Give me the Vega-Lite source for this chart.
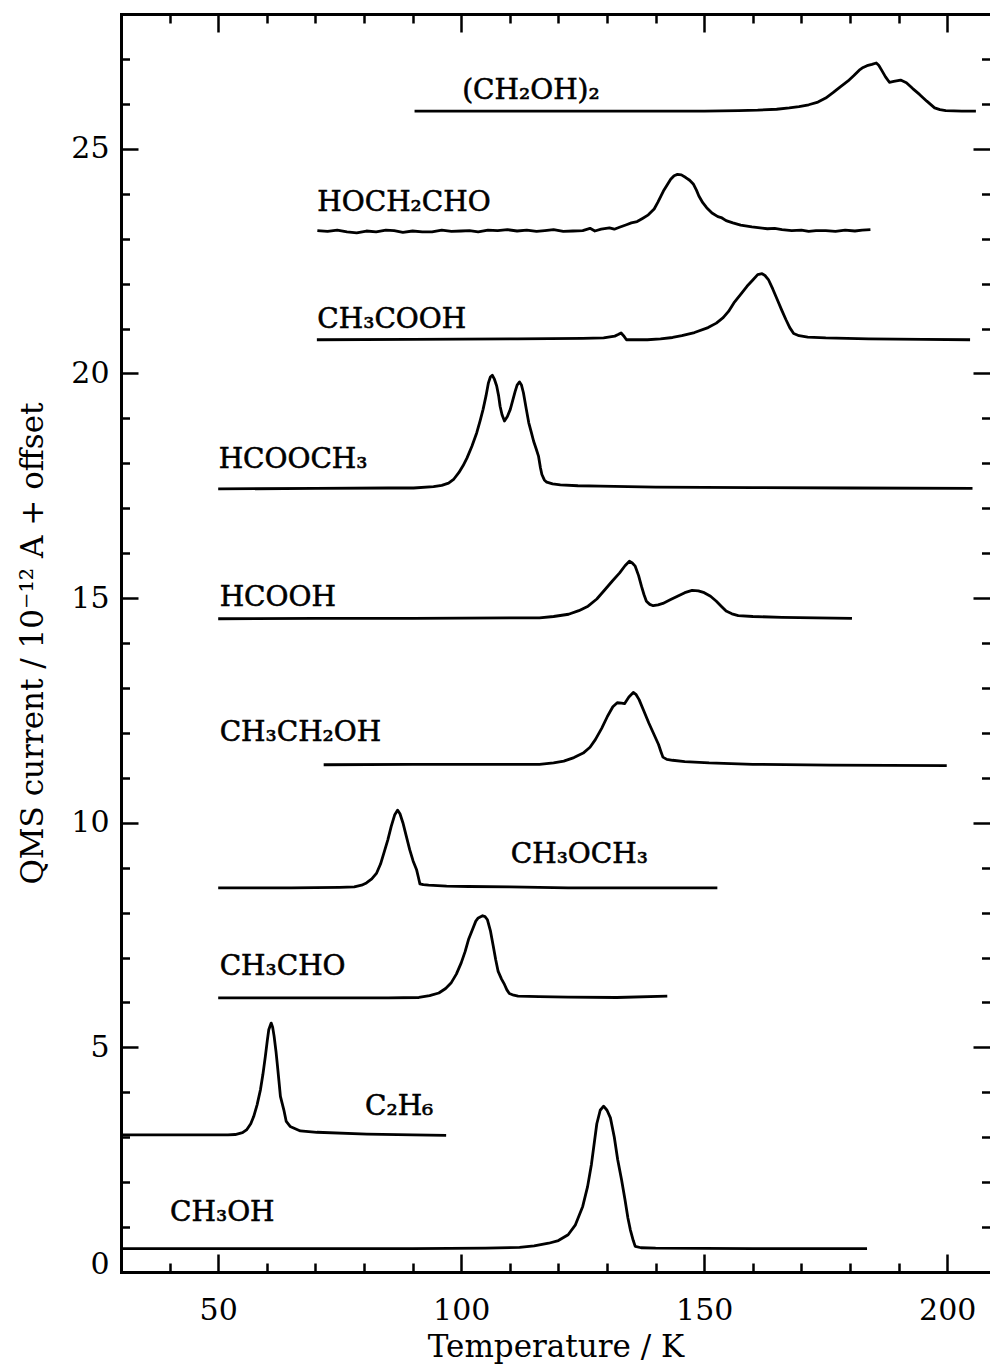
{
"$schema": "https://vega.github.io/schema/vega-lite/v6.json",
"width": 869, "height": 1258,
"autosize": {"type": "none"},
"padding": {"left": 121, "top": 14, "right": 0, "bottom": 92},
"background": "white",
"config": {
  "view": {"stroke": null},
  "font": "DejaVu Serif",
  "axis": {"grid": false, "domainColor": "black", "tickColor": "black", "domainWidth": 3, "tickWidth": 2.5, "domainCap": "square",
    "labelFont": "DejaVu Serif", "labelFontSize": 30, "labelColor": "black",
    "titleFont": "DejaVu Serif", "titleFontSize": 31, "titleFontWeight": "normal", "titleColor": "black"}
},
"datasets": {
"curves": [
{"s":"CH3OH","t":30,"v":0.52},{"s":"CH3OH","t":60,"v":0.52},{"s":"CH3OH","t":90,"v":0.52},{"s":"CH3OH","t":105,"v":0.53},{"s":"CH3OH","t":112,"v":0.55},{"s":"CH3OH","t":115,"v":0.58},{"s":"CH3OH","t":118,"v":0.64},{"s":"CH3OH","t":120,"v":0.7},{"s":"CH3OH","t":122,"v":0.83},{"s":"CH3OH","t":123.5,"v":1.05},{"s":"CH3OH","t":125,"v":1.46},{"s":"CH3OH","t":126,"v":1.9},{"s":"CH3OH","t":126.8,"v":2.4},{"s":"CH3OH","t":127.9,"v":3.3},{"s":"CH3OH","t":128.6,"v":3.6},{"s":"CH3OH","t":129.3,"v":3.69},{"s":"CH3OH","t":130,"v":3.6},{"s":"CH3OH","t":130.7,"v":3.43},{"s":"CH3OH","t":131.5,"v":3.0},{"s":"CH3OH","t":132.2,"v":2.5},{"s":"CH3OH","t":133,"v":2.05},{"s":"CH3OH","t":133.7,"v":1.61},{"s":"CH3OH","t":134.3,"v":1.2},{"s":"CH3OH","t":134.8,"v":0.94},{"s":"CH3OH","t":135.4,"v":0.7},{"s":"CH3OH","t":135.8,"v":0.57},{"s":"CH3OH","t":137,"v":0.54},{"s":"CH3OH","t":140,"v":0.53},{"s":"CH3OH","t":160,"v":0.52},{"s":"CH3OH","t":183.5,"v":0.52},
{"s":"C2H6","t":30,"v":3.05},{"s":"C2H6","t":45,"v":3.05},{"s":"C2H6","t":52,"v":3.05},{"s":"C2H6","t":53.5,"v":3.06},{"s":"C2H6","t":55,"v":3.1},{"s":"C2H6","t":55.9,"v":3.17},{"s":"C2H6","t":56.7,"v":3.3},{"s":"C2H6","t":57.3,"v":3.46},{"s":"C2H6","t":58,"v":3.72},{"s":"C2H6","t":58.7,"v":4.06},{"s":"C2H6","t":59.2,"v":4.4},{"s":"C2H6","t":59.7,"v":4.8},{"s":"C2H6","t":60.1,"v":5.15},{"s":"C2H6","t":60.4,"v":5.39},{"s":"C2H6","t":60.9,"v":5.54},{"s":"C2H6","t":61.2,"v":5.45},{"s":"C2H6","t":61.5,"v":5.25},{"s":"C2H6","t":61.9,"v":4.9},{"s":"C2H6","t":62.2,"v":4.58},{"s":"C2H6","t":62.5,"v":4.25},{"s":"C2H6","t":62.8,"v":3.91},{"s":"C2H6","t":63.5,"v":3.61},{"s":"C2H6","t":64,"v":3.35},{"s":"C2H6","t":64.8,"v":3.24},{"s":"C2H6","t":66.9,"v":3.14},{"s":"C2H6","t":70.3,"v":3.11},{"s":"C2H6","t":80.6,"v":3.07},{"s":"C2H6","t":90,"v":3.05},{"s":"C2H6","t":96.9,"v":3.04},
{"s":"CH3CHO","t":50,"v":6.1},{"s":"CH3CHO","t":70,"v":6.1},{"s":"CH3CHO","t":85,"v":6.1},{"s":"CH3CHO","t":91.3,"v":6.11},{"s":"CH3CHO","t":93.5,"v":6.15},{"s":"CH3CHO","t":95.4,"v":6.21},{"s":"CH3CHO","t":96.8,"v":6.31},{"s":"CH3CHO","t":97.9,"v":6.43},{"s":"CH3CHO","t":99,"v":6.63},{"s":"CH3CHO","t":100,"v":6.88},{"s":"CH3CHO","t":100.8,"v":7.13},{"s":"CH3CHO","t":101.5,"v":7.4},{"s":"CH3CHO","t":102.3,"v":7.62},{"s":"CH3CHO","t":103,"v":7.81},{"s":"CH3CHO","t":103.5,"v":7.88},{"s":"CH3CHO","t":104.4,"v":7.93},{"s":"CH3CHO","t":104.9,"v":7.91},{"s":"CH3CHO","t":105.4,"v":7.84},{"s":"CH3CHO","t":106,"v":7.6},{"s":"CH3CHO","t":106.6,"v":7.25},{"s":"CH3CHO","t":107.1,"v":6.95},{"s":"CH3CHO","t":107.6,"v":6.69},{"s":"CH3CHO","t":108.3,"v":6.52},{"s":"CH3CHO","t":108.9,"v":6.4},{"s":"CH3CHO","t":109.4,"v":6.28},{"s":"CH3CHO","t":109.9,"v":6.2},{"s":"CH3CHO","t":110.8,"v":6.16},{"s":"CH3CHO","t":111.7,"v":6.14},{"s":"CH3CHO","t":116,"v":6.13},{"s":"CH3CHO","t":122,"v":6.12},{"s":"CH3CHO","t":132,"v":6.11},{"s":"CH3CHO","t":142.4,"v":6.14},
{"s":"CH3OCH3","t":50,"v":8.55},{"s":"CH3OCH3","t":65,"v":8.55},{"s":"CH3OCH3","t":75,"v":8.56},{"s":"CH3OCH3","t":78,"v":8.57},{"s":"CH3OCH3","t":79.5,"v":8.61},{"s":"CH3OCH3","t":80.5,"v":8.66},{"s":"CH3OCH3","t":81.6,"v":8.75},{"s":"CH3OCH3","t":82.6,"v":8.88},{"s":"CH3OCH3","t":83.4,"v":9.08},{"s":"CH3OCH3","t":84.1,"v":9.33},{"s":"CH3OCH3","t":84.9,"v":9.62},{"s":"CH3OCH3","t":85.6,"v":9.92},{"s":"CH3OCH3","t":86.3,"v":10.17},{"s":"CH3OCH3","t":86.9,"v":10.28},{"s":"CH3OCH3","t":87.4,"v":10.2},{"s":"CH3OCH3","t":88,"v":10.0},{"s":"CH3OCH3","t":88.7,"v":9.7},{"s":"CH3OCH3","t":89.4,"v":9.4},{"s":"CH3OCH3","t":90.1,"v":9.15},{"s":"CH3OCH3","t":90.8,"v":8.96},{"s":"CH3OCH3","t":91.2,"v":8.78},{"s":"CH3OCH3","t":91.5,"v":8.64},{"s":"CH3OCH3","t":92.2,"v":8.62},{"s":"CH3OCH3","t":93.3,"v":8.61},{"s":"CH3OCH3","t":97,"v":8.59},{"s":"CH3OCH3","t":101.5,"v":8.58},{"s":"CH3OCH3","t":110,"v":8.57},{"s":"CH3OCH3","t":122,"v":8.55},{"s":"CH3OCH3","t":140,"v":8.55},{"s":"CH3OCH3","t":152.7,"v":8.55},
{"s":"CH3CH2OH","t":71.7,"v":11.29},{"s":"CH3CH2OH","t":90,"v":11.3},{"s":"CH3CH2OH","t":110,"v":11.3},{"s":"CH3CH2OH","t":116.1,"v":11.3},{"s":"CH3CH2OH","t":119,"v":11.33},{"s":"CH3CH2OH","t":121.1,"v":11.37},{"s":"CH3CH2OH","t":123.2,"v":11.45},{"s":"CH3CH2OH","t":125.1,"v":11.55},{"s":"CH3CH2OH","t":126.5,"v":11.68},{"s":"CH3CH2OH","t":127.6,"v":11.85},{"s":"CH3CH2OH","t":128.9,"v":12.1},{"s":"CH3CH2OH","t":130.1,"v":12.37},{"s":"CH3CH2OH","t":131.2,"v":12.58},{"s":"CH3CH2OH","t":132.1,"v":12.67},{"s":"CH3CH2OH","t":133,"v":12.66},{"s":"CH3CH2OH","t":133.6,"v":12.65},{"s":"CH3CH2OH","t":134.5,"v":12.8},{"s":"CH3CH2OH","t":135.4,"v":12.9},{"s":"CH3CH2OH","t":136,"v":12.85},{"s":"CH3CH2OH","t":136.6,"v":12.74},{"s":"CH3CH2OH","t":137.6,"v":12.48},{"s":"CH3CH2OH","t":138.6,"v":12.22},{"s":"CH3CH2OH","t":139.6,"v":11.98},{"s":"CH3CH2OH","t":140.6,"v":11.74},{"s":"CH3CH2OH","t":141.1,"v":11.58},{"s":"CH3CH2OH","t":141.5,"v":11.46},{"s":"CH3CH2OH","t":142.3,"v":11.41},{"s":"CH3CH2OH","t":143.5,"v":11.39},{"s":"CH3CH2OH","t":146,"v":11.36},{"s":"CH3CH2OH","t":151,"v":11.33},{"s":"CH3CH2OH","t":160,"v":11.3},{"s":"CH3CH2OH","t":176,"v":11.28},{"s":"CH3CH2OH","t":199.9,"v":11.27},
{"s":"HCOOH","t":50,"v":14.54},{"s":"HCOOH","t":70,"v":14.55},{"s":"HCOOH","t":90,"v":14.55},{"s":"HCOOH","t":110,"v":14.56},{"s":"HCOOH","t":116.1,"v":14.56},{"s":"HCOOH","t":119,"v":14.59},{"s":"HCOOH","t":122.1,"v":14.64},{"s":"HCOOH","t":124.2,"v":14.72},{"s":"HCOOH","t":126.1,"v":14.82},{"s":"HCOOH","t":127.9,"v":14.98},{"s":"HCOOH","t":129.6,"v":15.19},{"s":"HCOOH","t":131.1,"v":15.38},{"s":"HCOOH","t":132.6,"v":15.56},{"s":"HCOOH","t":133.7,"v":15.72},{"s":"HCOOH","t":134.6,"v":15.82},{"s":"HCOOH","t":135.2,"v":15.78},{"s":"HCOOH","t":135.8,"v":15.71},{"s":"HCOOH","t":136.5,"v":15.5},{"s":"HCOOH","t":137.1,"v":15.26},{"s":"HCOOH","t":137.6,"v":15.08},{"s":"HCOOH","t":138.1,"v":14.93},{"s":"HCOOH","t":138.8,"v":14.86},{"s":"HCOOH","t":139.5,"v":14.83},{"s":"HCOOH","t":140.5,"v":14.85},{"s":"HCOOH","t":141.5,"v":14.88},{"s":"HCOOH","t":143,"v":14.96},{"s":"HCOOH","t":144.5,"v":15.04},{"s":"HCOOH","t":146,"v":15.12},{"s":"HCOOH","t":147.5,"v":15.17},{"s":"HCOOH","t":148.8,"v":15.16},{"s":"HCOOH","t":150,"v":15.12},{"s":"HCOOH","t":151.3,"v":15.04},{"s":"HCOOH","t":152.5,"v":14.93},{"s":"HCOOH","t":153.5,"v":14.82},{"s":"HCOOH","t":154.5,"v":14.71},{"s":"HCOOH","t":155.7,"v":14.65},{"s":"HCOOH","t":157,"v":14.61},{"s":"HCOOH","t":160,"v":14.59},{"s":"HCOOH","t":166,"v":14.57},{"s":"HCOOH","t":173,"v":14.56},{"s":"HCOOH","t":180.4,"v":14.55},
{"s":"HCOOCH3","t":50,"v":17.43},{"s":"HCOOCH3","t":70,"v":17.44},{"s":"HCOOCH3","t":85,"v":17.45},{"s":"HCOOCH3","t":90.2,"v":17.45},{"s":"HCOOCH3","t":94.3,"v":17.48},{"s":"HCOOCH3","t":96,"v":17.51},{"s":"HCOOCH3","t":97.4,"v":17.56},{"s":"HCOOCH3","t":98.5,"v":17.65},{"s":"HCOOCH3","t":99.5,"v":17.79},{"s":"HCOOCH3","t":100.4,"v":17.95},{"s":"HCOOCH3","t":101.2,"v":18.12},{"s":"HCOOCH3","t":102.2,"v":18.38},{"s":"HCOOCH3","t":103.2,"v":18.68},{"s":"HCOOCH3","t":103.9,"v":18.95},{"s":"HCOOCH3","t":104.5,"v":19.2},{"s":"HCOOCH3","t":105.1,"v":19.5},{"s":"HCOOCH3","t":105.6,"v":19.79},{"s":"HCOOCH3","t":106,"v":19.92},{"s":"HCOOCH3","t":106.4,"v":19.96},{"s":"HCOOCH3","t":106.8,"v":19.88},{"s":"HCOOCH3","t":107.3,"v":19.72},{"s":"HCOOCH3","t":107.7,"v":19.5},{"s":"HCOOCH3","t":108,"v":19.27},{"s":"HCOOCH3","t":108.4,"v":19.08},{"s":"HCOOCH3","t":108.9,"v":18.94},{"s":"HCOOCH3","t":109.5,"v":19.04},{"s":"HCOOCH3","t":110.1,"v":19.2},{"s":"HCOOCH3","t":110.6,"v":19.4},{"s":"HCOOCH3","t":111.1,"v":19.6},{"s":"HCOOCH3","t":111.5,"v":19.74},{"s":"HCOOCH3","t":112,"v":19.81},{"s":"HCOOCH3","t":112.4,"v":19.74},{"s":"HCOOCH3","t":112.8,"v":19.57},{"s":"HCOOCH3","t":113.4,"v":19.2},{"s":"HCOOCH3","t":113.9,"v":18.9},{"s":"HCOOCH3","t":114.4,"v":18.7},{"s":"HCOOCH3","t":114.9,"v":18.49},{"s":"HCOOCH3","t":115.4,"v":18.33},{"s":"HCOOCH3","t":115.9,"v":18.16},{"s":"HCOOCH3","t":116.3,"v":17.9},{"s":"HCOOCH3","t":116.6,"v":17.75},{"s":"HCOOCH3","t":117.1,"v":17.63},{"s":"HCOOCH3","t":117.6,"v":17.58},{"s":"HCOOCH3","t":118.8,"v":17.54},{"s":"HCOOCH3","t":120.4,"v":17.52},{"s":"HCOOCH3","t":124,"v":17.5},{"s":"HCOOCH3","t":128.6,"v":17.49},{"s":"HCOOCH3","t":140,"v":17.47},{"s":"HCOOCH3","t":160,"v":17.46},{"s":"HCOOCH3","t":180,"v":17.45},{"s":"HCOOCH3","t":205.2,"v":17.44},
{"s":"CH3COOH","t":70.3,"v":20.75},{"s":"CH3COOH","t":90,"v":20.76},{"s":"CH3COOH","t":111.5,"v":20.77},{"s":"CH3COOH","t":125,"v":20.78},{"s":"CH3COOH","t":129.3,"v":20.79},{"s":"CH3COOH","t":131.6,"v":20.83},{"s":"CH3COOH","t":132.4,"v":20.87},{"s":"CH3COOH","t":132.9,"v":20.9},{"s":"CH3COOH","t":133.4,"v":20.84},{"s":"CH3COOH","t":134,"v":20.75},{"s":"CH3COOH","t":136,"v":20.75},{"s":"CH3COOH","t":138.3,"v":20.75},{"s":"CH3COOH","t":141,"v":20.77},{"s":"CH3COOH","t":143.5,"v":20.8},{"s":"CH3COOH","t":145.4,"v":20.84},{"s":"CH3COOH","t":148,"v":20.91},{"s":"CH3COOH","t":150.8,"v":21.02},{"s":"CH3COOH","t":152.5,"v":21.12},{"s":"CH3COOH","t":153.9,"v":21.24},{"s":"CH3COOH","t":155,"v":21.38},{"s":"CH3COOH","t":156.1,"v":21.57},{"s":"CH3COOH","t":157.5,"v":21.76},{"s":"CH3COOH","t":158.8,"v":21.94},{"s":"CH3COOH","t":160,"v":22.08},{"s":"CH3COOH","t":161,"v":22.2},{"s":"CH3COOH","t":161.9,"v":22.22},{"s":"CH3COOH","t":162.5,"v":22.18},{"s":"CH3COOH","t":163.2,"v":22.09},{"s":"CH3COOH","t":164.1,"v":21.88},{"s":"CH3COOH","t":165,"v":21.65},{"s":"CH3COOH","t":165.9,"v":21.42},{"s":"CH3COOH","t":166.8,"v":21.2},{"s":"CH3COOH","t":167.6,"v":21.02},{"s":"CH3COOH","t":168.4,"v":20.89},{"s":"CH3COOH","t":169.5,"v":20.84},{"s":"CH3COOH","t":171.3,"v":20.81},{"s":"CH3COOH","t":175,"v":20.79},{"s":"CH3COOH","t":183.8,"v":20.77},{"s":"CH3COOH","t":195,"v":20.76},{"s":"CH3COOH","t":204.7,"v":20.75},
{"s":"HOCH2CHO","t":70.4,"v":23.18},{"s":"HOCH2CHO","t":72.5,"v":23.16},{"s":"HOCH2CHO","t":74.5,"v":23.19},{"s":"HOCH2CHO","t":76.5,"v":23.15},{"s":"HOCH2CHO","t":78.5,"v":23.13},{"s":"HOCH2CHO","t":80.5,"v":23.17},{"s":"HOCH2CHO","t":82.5,"v":23.15},{"s":"HOCH2CHO","t":84.5,"v":23.19},{"s":"HOCH2CHO","t":86.2,"v":23.18},{"s":"HOCH2CHO","t":88,"v":23.14},{"s":"HOCH2CHO","t":90,"v":23.17},{"s":"HOCH2CHO","t":92,"v":23.15},{"s":"HOCH2CHO","t":94,"v":23.15},{"s":"HOCH2CHO","t":96,"v":23.19},{"s":"HOCH2CHO","t":98,"v":23.16},{"s":"HOCH2CHO","t":100,"v":23.17},{"s":"HOCH2CHO","t":101.7,"v":23.18},{"s":"HOCH2CHO","t":103.5,"v":23.15},{"s":"HOCH2CHO","t":105.5,"v":23.19},{"s":"HOCH2CHO","t":107.5,"v":23.18},{"s":"HOCH2CHO","t":109.5,"v":23.2},{"s":"HOCH2CHO","t":111.5,"v":23.17},{"s":"HOCH2CHO","t":113.5,"v":23.19},{"s":"HOCH2CHO","t":115.5,"v":23.16},{"s":"HOCH2CHO","t":117.2,"v":23.18},{"s":"HOCH2CHO","t":119,"v":23.2},{"s":"HOCH2CHO","t":121,"v":23.16},{"s":"HOCH2CHO","t":123,"v":23.17},{"s":"HOCH2CHO","t":125,"v":23.18},{"s":"HOCH2CHO","t":126.5,"v":23.23},{"s":"HOCH2CHO","t":127.5,"v":23.17},{"s":"HOCH2CHO","t":128.8,"v":23.21},{"s":"HOCH2CHO","t":130.5,"v":23.24},{"s":"HOCH2CHO","t":131.5,"v":23.21},{"s":"HOCH2CHO","t":132.7,"v":23.26},{"s":"HOCH2CHO","t":134,"v":23.31},{"s":"HOCH2CHO","t":135,"v":23.35},{"s":"HOCH2CHO","t":136.2,"v":23.38},{"s":"HOCH2CHO","t":137.3,"v":23.45},{"s":"HOCH2CHO","t":138.5,"v":23.53},{"s":"HOCH2CHO","t":139.7,"v":23.66},{"s":"HOCH2CHO","t":140.5,"v":23.82},{"s":"HOCH2CHO","t":141.6,"v":24.06},{"s":"HOCH2CHO","t":142.4,"v":24.2},{"s":"HOCH2CHO","t":143.1,"v":24.32},{"s":"HOCH2CHO","t":143.8,"v":24.4},{"s":"HOCH2CHO","t":144.5,"v":24.43},{"s":"HOCH2CHO","t":145.3,"v":24.42},{"s":"HOCH2CHO","t":146.2,"v":24.36},{"s":"HOCH2CHO","t":147,"v":24.3},{"s":"HOCH2CHO","t":147.8,"v":24.21},{"s":"HOCH2CHO","t":148.4,"v":24.08},{"s":"HOCH2CHO","t":148.9,"v":23.95},{"s":"HOCH2CHO","t":149.7,"v":23.8},{"s":"HOCH2CHO","t":150.5,"v":23.69},{"s":"HOCH2CHO","t":151.6,"v":23.57},{"s":"HOCH2CHO","t":152.8,"v":23.49},{"s":"HOCH2CHO","t":153.5,"v":23.47},{"s":"HOCH2CHO","t":154.5,"v":23.4},{"s":"HOCH2CHO","t":155.9,"v":23.35},{"s":"HOCH2CHO","t":157.5,"v":23.3},{"s":"HOCH2CHO","t":159.8,"v":23.26},{"s":"HOCH2CHO","t":161.5,"v":23.24},{"s":"HOCH2CHO","t":163,"v":23.22},{"s":"HOCH2CHO","t":164.5,"v":23.23},{"s":"HOCH2CHO","t":166,"v":23.2},{"s":"HOCH2CHO","t":168,"v":23.18},{"s":"HOCH2CHO","t":170,"v":23.19},{"s":"HOCH2CHO","t":171.5,"v":23.16},{"s":"HOCH2CHO","t":173,"v":23.18},{"s":"HOCH2CHO","t":175,"v":23.18},{"s":"HOCH2CHO","t":177,"v":23.16},{"s":"HOCH2CHO","t":179,"v":23.19},{"s":"HOCH2CHO","t":181,"v":23.17},{"s":"HOCH2CHO","t":182.5,"v":23.19},{"s":"HOCH2CHO","t":184.2,"v":23.2},
{"s":"(CH2OH)2","t":90.4,"v":25.84},{"s":"(CH2OH)2","t":110,"v":25.84},{"s":"(CH2OH)2","t":133.9,"v":25.84},{"s":"(CH2OH)2","t":150,"v":25.84},{"s":"(CH2OH)2","t":157.1,"v":25.85},{"s":"(CH2OH)2","t":161,"v":25.86},{"s":"(CH2OH)2","t":164.9,"v":25.88},{"s":"(CH2OH)2","t":167.5,"v":25.91},{"s":"(CH2OH)2","t":169.5,"v":25.94},{"s":"(CH2OH)2","t":171.5,"v":25.98},{"s":"(CH2OH)2","t":173.4,"v":26.04},{"s":"(CH2OH)2","t":175,"v":26.13},{"s":"(CH2OH)2","t":176.5,"v":26.25},{"s":"(CH2OH)2","t":178,"v":26.38},{"s":"(CH2OH)2","t":179.6,"v":26.51},{"s":"(CH2OH)2","t":180.8,"v":26.63},{"s":"(CH2OH)2","t":181.9,"v":26.75},{"s":"(CH2OH)2","t":182.7,"v":26.81},{"s":"(CH2OH)2","t":183.5,"v":26.85},{"s":"(CH2OH)2","t":184.5,"v":26.88},{"s":"(CH2OH)2","t":185.4,"v":26.91},{"s":"(CH2OH)2","t":185.9,"v":26.86},{"s":"(CH2OH)2","t":186.5,"v":26.75},{"s":"(CH2OH)2","t":187.3,"v":26.6},{"s":"(CH2OH)2","t":188.1,"v":26.48},{"s":"(CH2OH)2","t":189,"v":26.5},{"s":"(CH2OH)2","t":190.4,"v":26.53},{"s":"(CH2OH)2","t":191.6,"v":26.47},{"s":"(CH2OH)2","t":192.9,"v":26.34},{"s":"(CH2OH)2","t":194.3,"v":26.21},{"s":"(CH2OH)2","t":195.8,"v":26.06},{"s":"(CH2OH)2","t":197.4,"v":25.91},{"s":"(CH2OH)2","t":198.5,"v":25.87},{"s":"(CH2OH)2","t":199.7,"v":25.85},{"s":"(CH2OH)2","t":203,"v":25.84},{"s":"(CH2OH)2","t":205.9,"v":25.84}
],
"labels": [
{"s":"(CH2OH)2","label":"(CH₂OH)₂","t":100.2,"v":26.11},
{"s":"HOCH2CHO","label":"HOCH₂CHO","t":70.4,"v":23.61},
{"s":"CH3COOH","label":"CH₃COOH","t":70.4,"v":21.01},
{"s":"HCOOCH3","label":"HCOOCH₃","t":50.1,"v":17.9},
{"s":"HCOOH","label":"HCOOH","t":50.3,"v":14.82},
{"s":"CH3CH2OH","label":"CH₃CH₂OH","t":50.3,"v":11.81},
{"s":"CH3OCH3","label":"CH₃OCH₃","t":110.2,"v":9.1},
{"s":"CH3CHO","label":"CH₃CHO","t":50.3,"v":6.62},
{"s":"C2H6","label":"C₂H₆","t":80.2,"v":3.5},
{"s":"CH3OH","label":"CH₃OH","t":40.1,"v":1.13}
]
},
"layer": [
{
  "data": {"name": "curves"},
  "transform": [{"filter": {"field": "s", "oneOf": ["CH3OH","C2H6","CH3CHO","CH3OCH3","CH3CH2OH"]}}],
  "mark": {"type": "line", "color": "black", "strokeWidth": 2.8, "strokeJoin": "round"},
  "encoding": {
    "x": {"field": "t", "type": "quantitative", "scale": {"domain": [30, 208.8], "nice": false, "zero": false},
      "axis": {"orient": "bottom", "values": [50,100,150,200], "tickSize": -18, "labelPadding": 41, "title": "Temperature / K", "titleY": 84, "titleBaseline": "alphabetic",
        "encode": {"labels": {"update": {"stroke": {"value": "black"}, "strokeWidth": {"value": 0.6}}}, "title": {"update": {"stroke": {"value": "black"}, "strokeWidth": {"value": 0.6}}}}}},
    "y": {"field": "v", "type": "quantitative", "scale": {"domain": [0, 28], "nice": false, "zero": false},
      "axis": {"orient": "left", "values": [0,5,10,15,20,25], "tickSize": -17, "labelPadding": 29, "labelFlush": true, "labelFlushOffset": 7, "title": "QMS current / 10⁻¹² A + offset", "titleX": -79, "titleBaseline": "alphabetic", "titleAngle": -90,
        "encode": {"labels": {"update": {"stroke": {"value": "black"}, "strokeWidth": {"value": 0.6}}}, "title": {"update": {"stroke": {"value": "black"}, "strokeWidth": {"value": 0.6}}}}}},
    "detail": {"field": "s"}
  }
},
{
  "data": {"name": "labels"},
  "transform": [{"filter": {"field": "s", "oneOf": ["CH3OH","C2H6","CH3CHO","CH3OCH3","CH3CH2OH"]}}],
  "mark": {"type": "text", "align": "left", "baseline": "alphabetic", "font": "DejaVu Serif", "fontSize": 28, "color": "black", "stroke": "black", "strokeWidth": 0.6},
  "encoding": {
    "x": {"field": "t", "type": "quantitative", "scale": {"domain": [30, 208.8], "nice": false, "zero": false},
      "axis": {"orient": "bottom", "values": [40,60,70,80,90,110,120,130,140,160,170,180,190], "tickSize": -9, "labels": false, "domain": false, "title": null}},
    "y": {"field": "v", "type": "quantitative", "scale": {"domain": [0, 28], "nice": false, "zero": false},
      "axis": {"orient": "left", "values": [1,2,3,4,6,7,8,9,11,12,13,14,16,17,18,19,21,22,23,24,26,27], "tickSize": -8.5, "labels": false, "domain": false, "title": null}},
    "text": {"field": "label"}
  }
},
{
  "data": {"name": "curves"},
  "transform": [{"filter": {"field": "s", "oneOf": ["HCOOH","HCOOCH3","CH3COOH","HOCH2CHO","(CH2OH)2"]}}],
  "mark": {"type": "line", "color": "black", "strokeWidth": 2.8, "strokeJoin": "round"},
  "encoding": {
    "x": {"field": "t", "type": "quantitative", "scale": {"domain": [30, 208.8], "nice": false, "zero": false},
      "axis": {"orient": "top", "values": [50,100,150,200], "tickSize": -18, "labels": false, "title": null}},
    "y": {"field": "v", "type": "quantitative", "scale": {"domain": [0, 28], "nice": false, "zero": false},
      "axis": {"orient": "right", "values": [0,5,10,15,20,25], "tickSize": -17, "labels": false, "domain": false, "title": null}},
    "detail": {"field": "s"}
  }
},
{
  "data": {"name": "labels"},
  "transform": [{"filter": {"field": "s", "oneOf": ["HCOOH","HCOOCH3","CH3COOH","HOCH2CHO","(CH2OH)2"]}}],
  "mark": {"type": "text", "align": "left", "baseline": "alphabetic", "font": "DejaVu Serif", "fontSize": 28, "color": "black", "stroke": "black", "strokeWidth": 0.6},
  "encoding": {
    "x": {"field": "t", "type": "quantitative", "scale": {"domain": [30, 208.8], "nice": false, "zero": false},
      "axis": {"orient": "top", "values": [40,60,70,80,90,110,120,130,140,160,170,180,190], "tickSize": -9, "labels": false, "domain": false, "title": null}},
    "y": {"field": "v", "type": "quantitative", "scale": {"domain": [0, 28], "nice": false, "zero": false},
      "axis": {"orient": "right", "values": [1,2,3,4,6,7,8,9,11,12,13,14,16,17,18,19,21,22,23,24,26,27], "tickSize": -8.5, "labels": false, "domain": false, "title": null}},
    "text": {"field": "label"}
  }
}
],
"resolve": {"axis": {"x": "independent", "y": "independent"}}
}
